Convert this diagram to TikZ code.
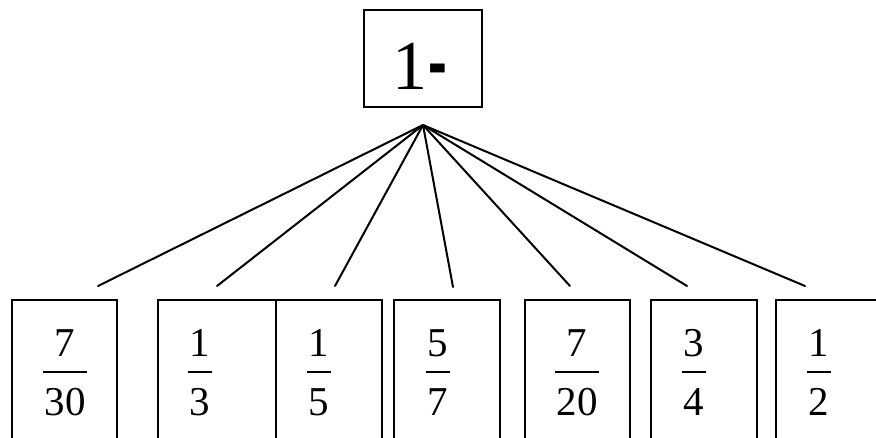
\documentclass[tikz,border=0pt]{standalone}
\usepackage{fontspec}
\setmainfont{Liberation Serif}
\usepackage{array}
\newcommand{\myfrac}[2]{{\setlength{\arrayrulewidth}{2.2pt}\begin{tabular}{@{\hspace{1.8pt}}c@{\hspace{1.8pt}}}#1\\\hline\rule{0pt}{42pt}#2\end{tabular}}}
\tikzset{
  box/.style={draw, line width=2.2pt, anchor=north west, minimum height=200pt, inner sep=0pt},
  fr/.style={inner sep=0pt, font=\fontsize{41}{49}\selectfont},
  conn/.style={line width=2pt, line cap=round}
}
\begin{document}
\begin{tikzpicture}[x=1pt,y=-1pt]
\useasboundingbox (0,0) rectangle (876,437);
\clip (0,0) rectangle (876,437);
\fill[white] (0,0) rectangle (876,437);
% top box
\node[draw, line width=2.2pt, minimum width=118pt, minimum height=97pt, inner sep=0pt] (top) at (423,58.5) {};
\node[inner sep=0pt, anchor=base, font=\fontsize{70}{80}\selectfont] (toplabel) at (420,89) {1\kern1pt\raisebox{-7pt}{\scalebox{0.8}[1.7]{-}}};
\coordinate (apex) at (423,125);
% bottom boxes
\node[box, minimum width=105pt] (b1) at (11,299) {};
\node[box, minimum width=118pt] (b2) at (157,299) {};
\node[box, minimum width=106pt] (b3) at (275,299) {};
\node[box, minimum width=106pt] (b4) at (393,299) {};
\node[box, minimum width=105pt] (b5) at (524,299) {};
\node[box, minimum width=106pt] (b6) at (650,299) {};
\node[box, minimum width=130pt] (b7) at (775,299) {};
% fractions
\node[fr] (f1) at (65,376) {\myfrac{7}{30}};
\node[fr] (f2) at (200,376) {\myfrac{1}{3}};
\node[fr] (f3) at (319,376) {\myfrac{1}{5}};
\node[fr] (f4) at (438,376) {\myfrac{5}{7}};
\node[fr] (f5) at (577,376) {\myfrac{7}{20}};
\node[fr] (f6) at (694,376) {\myfrac{3}{4}};
\node[fr] (f7) at (819,376) {\myfrac{1}{2}};
% connector ends
\coordinate (e1) at (98,286);
\coordinate (e2) at (217,286);
\coordinate (e3) at (335,286);
\coordinate (e4) at (453,287);
\coordinate (e5) at (570,286);
\coordinate (e6) at (687,286);
\coordinate (e7) at (805,286);
\foreach \i in {1,...,7} \draw[conn] (apex) -- (e\i);
\end{tikzpicture}
\end{document}
